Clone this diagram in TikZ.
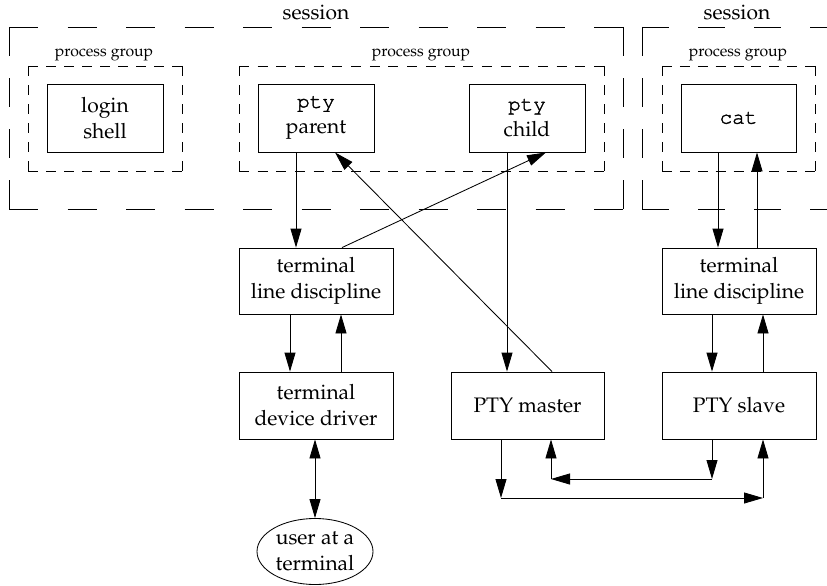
\documentclass[tikz,border=0pt]{standalone}
\usepackage[T1]{fontenc}
\usepackage{mathpazo}
\usepackage{courier}
\usetikzlibrary{arrows.meta,shapes.geometric}
\newcommand\heavytt[1]{\special{pdf:literal direct 2 Tr 0.35 w}{\ttfamily #1}\special{pdf:literal direct 0 Tr 0.85 w}}
\newcommand\dside[6]{%
  \pgfmathsetmacro\dlen{abs(#3-#1)+abs(#4-#2)}%
  \pgfmathsetmacro\dn{max(2,round((\dlen+#6)/(#5+#6)))}%
  \pgfmathsetmacro\dg{(\dlen-\dn*#5)/(\dn-1)}%
  \draw[thinline, dash pattern=on #5pt off \dg pt] (#1,#2) -- (#3,#4);}
\newcommand\dbox[6]{%
  \dside{#1}{#2}{#3}{#2}{#5}{#6}%
  \dside{#3}{#2}{#3}{#4}{#5}{#6}%
  \dside{#1}{#4}{#3}{#4}{#5}{#6}%
  \dside{#1}{#2}{#1}{#4}{#5}{#6}}
\tikzset{
  thinline/.style={line width=0.85pt},
  box/.style={draw, thinline, rectangle, inner sep=0pt, align=center,
    font=\fontsize{21}{26}\selectfont},
  pbox/.style={box, minimum width=116pt, minimum height=68pt},
  kbox/.style={box, minimum width=154pt, minimum height=67pt},
  seslabel/.style={anchor=base, inner sep=0pt, font=\fontsize{21}{26}\selectfont},
  grplabel/.style={anchor=base, inner sep=0pt, font=\fontsize{15.8}{19}\selectfont},
  arr/.style={thinline, -{Triangle[length=19pt,width=11pt]}},
  arrboth/.style={thinline, {Triangle[length=19pt,width=11pt]}-{Triangle[length=19pt,width=11pt]}},
}
\begin{document}
\begin{tikzpicture}[x=1pt,y=-1pt]
\useasboundingbox (0,0) rectangle (827,586);
% sessions
\dbox{9}{27}{623}{209}{29}{28}
\draw[thinline, dash pattern=on 27pt off 29pt] (642,27) -- (870,27);
\draw[thinline, dash pattern=on 27pt off 29pt] (642,209) -- (870,209);
\dside{642}{27}{642}{209}{29}{28}
\node[seslabel] (s1) at (316,20) {session};
\node[seslabel] (s2) at (737,20) {session};
% process groups
\dbox{28}{66}{182}{171}{10}{8.5}
\dbox{239}{66}{604}{171}{10}{8.5}
\dbox{662}{66}{815}{171}{10}{8.5}
\node[grplabel] (g1) at (104,57) {process group};
\node[grplabel] (g2) at (421,57) {process group};
\node[grplabel] (g3) at (738,57) {process group};
% process boxes
\node[pbox] (login) at (105,118) {login\\shell};
\node[pbox] (parent) at (316,118) {\heavytt{pty}\\parent};
\node[pbox] (child) at (527,118) {\heavytt{pty}\\child};
\node[pbox, minimum width=115pt] (cat) at (738.5,118) {\heavytt{cat}};
% kernel boxes
\node[kbox, minimum height=66pt] (tldL) at (316,281) {terminal\\line discipline};
\node[kbox] (driver) at (316,405.5) {terminal\\device driver};
\node[kbox, minimum width=153pt] (master) at (527.5,405.5) {PTY master};
\node[kbox, minimum height=66pt] (tldR) at (739,281) {terminal\\line discipline};
\node[kbox] (slave) at (739,405.5) {PTY slave};
\node[draw, thinline, ellipse, inner sep=0pt, minimum width=116pt, minimum height=66pt,
  align=center, font=\fontsize{21}{26}\selectfont] (user) at (315,551.5) {user at a\\terminal};
% connectors
\draw[arr] (296,0 |- parent.south) -- (296,0 |- tldL.north);
\draw[arr] (342,0 |- tldL.north) -- (546,0 |- child.south);
\draw[arr] (552,0 |- master.north) -- (335,0 |- parent.south);
\draw[arr] (507,0 |- child.south) -- (507,0 |- master.north);
\draw[arr] (718,0 |- cat.south) -- (718,0 |- tldR.north);
\draw[arr] (757,0 |- tldR.north) -- (757,0 |- cat.south);
\draw[arr] (290,0 |- tldL.south) -- (290,0 |- driver.north);
\draw[arr] (341,0 |- driver.north) -- (341,0 |- tldL.south);
\draw[arr] (712,0 |- tldR.south) -- (712,0 |- slave.north);
\draw[arr] (763,0 |- slave.north) -- (763,0 |- tldR.south);
\draw[arrboth] (315,0 |- driver.south) -- (user.north);
\coordinate (b1) at (501,498);
\coordinate (b2) at (763,498);
\coordinate (c1) at (712,479);
\coordinate (c2) at (551,479);
\draw[arr] (501,0 |- master.south) -- (b1);
\draw[arr] (b1) -- (b2);
\draw[arr] (b2) -- (763,0 |- slave.south);
\draw[arr] (712,0 |- slave.south) -- (c1);
\draw[arr] (c1) -- (c2);
\draw[arr] (c2) -- (551,0 |- master.south);
\end{tikzpicture}
\end{document}
